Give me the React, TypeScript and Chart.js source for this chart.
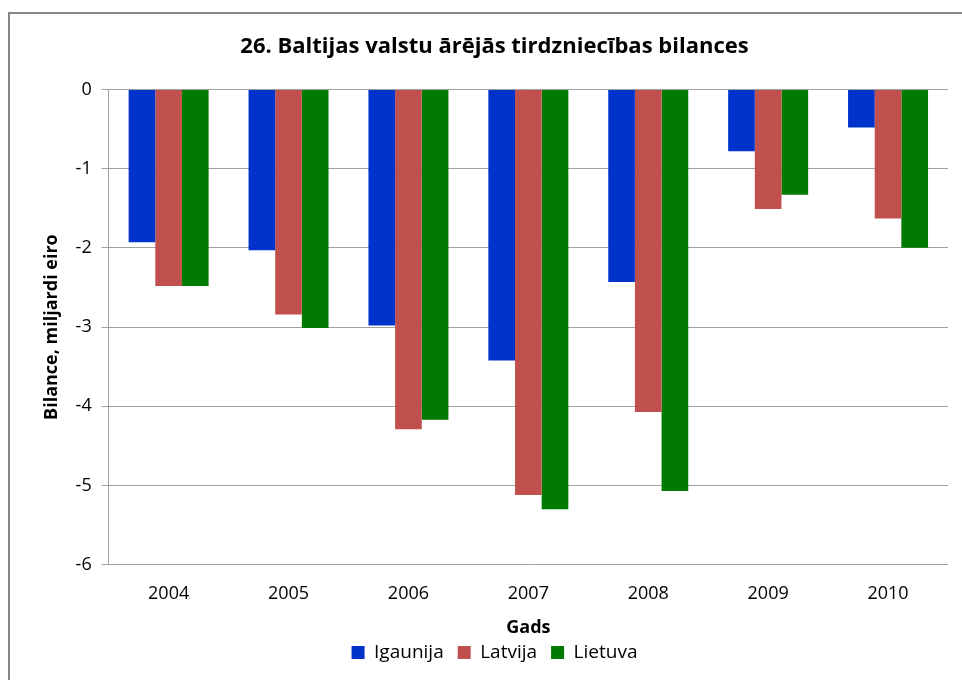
import React, { useEffect, useRef } from "react";
import { Chart, registerables } from "chart.js";

Chart.register(...registerables);

const years = ["2004", "2005", "2006", "2007", "2008", "2009", "2010"];
const igaunija = [-1.93, -2.03, -2.98, -3.42, -2.43, -0.78, -0.48];
const latvija = [-2.48, -2.84, -4.29, -5.12, -4.07, -1.51, -1.63];
const lietuva = [-2.48, -3.01, -4.17, -5.3, -5.07, -1.33, -2.0];
const seriesNames = ["Igaunija", "Latvija", "Lietuva"];
const seriesColors = ["#0033cc", "#c0504d", "#007a00"];

const titleText = "26. Baltijas valstu ārējās tirdzniecības bilances";
const yTitle = "Bilance, miljardi eiro";
const xTitle = "Gads";

const FONT = "'Open Sans', 'Noto Sans', sans-serif";

export default function App() {
  const ref = useRef<HTMLCanvasElement | null>(null);

  useEffect(() => {
    if (!ref.current) return;
    const values = [igaunija, latvija, lietuva];
    const chart = new Chart(ref.current, {
      type: "bar",
      data: {
        labels: years,
        datasets: seriesNames.map((name, i) => ({
          label: name,
          data: values[i],
          backgroundColor: seriesColors[i],
          borderWidth: 0,
          barPercentage: 1.0,
          categoryPercentage: 0.667,
        })),
      },
      options: {
        responsive: false,
        animation: false,
        devicePixelRatio: 1,
        layout: { padding: { left: 31, right: 14, top: 8, bottom: 8 } },
        plugins: {
          title: {
            display: true,
            text: titleText,
            color: "#000",
            font: { family: FONT, size: 22, weight: "bold" },
            padding: { top: 12, bottom: 29 },
          },
          legend: {
            display: true,
            position: "bottom",
            labels: {
              color: "#000",
              font: { family: FONT, size: 19 },
              boxWidth: 13,
              boxHeight: 13,
              padding: 14,
            },
          },
          tooltip: { enabled: false },
        },
        scales: {
          x: {
            grid: { display: false, drawTicks: false },
            border: { display: false },
            ticks: { color: "#000", font: { family: FONT, size: 18 }, padding: 18 },
            title: {
              display: true,
              text: xTitle,
              color: "#000",
              font: { family: FONT, size: 18, weight: "bold" },
              padding: { top: -5, bottom: -10 },
            },
          },
          y: {
            min: -6,
            max: 0,
            ticks: {
              stepSize: 1,
              color: "#000",
              font: { family: FONT, size: 18 },
              padding: 10,
            },
            grid: { color: "#a0a0a0", lineWidth: 1, tickLength: 7 },
            border: { display: true, color: "#a0a0a0" },
            title: {
              display: true,
              text: yTitle,
              color: "#000",
              font: { family: FONT, size: 18, weight: "bold" },
              padding: { top: 0, bottom: 3 },
            },
          },
        },
      },
    });
    return () => chart.destroy();
  }, []);

  return (
    <div
      style={{
        position: "fixed",
        left: 8,
        top: 12,
        width: 970,
        height: 700,
        borderLeft: "2px solid #868686",
        borderTop: "2px solid #868686",
        background: "#fff",
        overflow: "hidden",
      }}
    >
      <canvas ref={ref} width={952} height={666} style={{ display: "block" }} />
    </div>
  );
}
